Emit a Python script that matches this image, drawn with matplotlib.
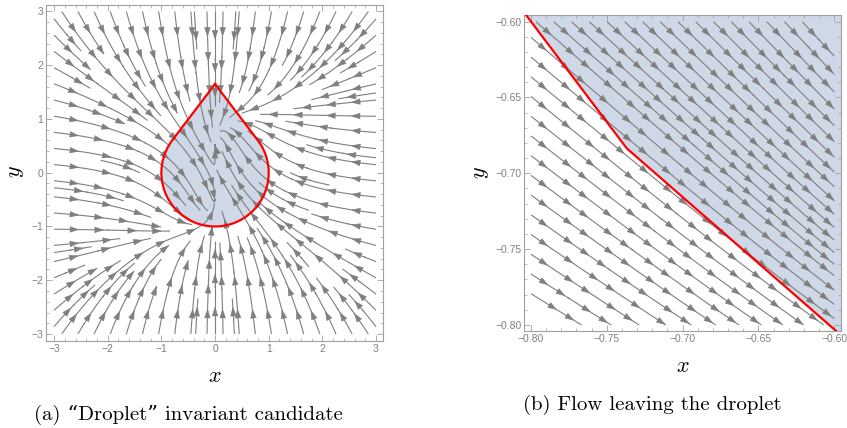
import numpy as np
import matplotlib
matplotlib.use('Agg')
from matplotlib import pyplot as plt
from matplotlib import rc
from matplotlib.patches import FancyArrowPatch, Polygon, ArrowStyle
from matplotlib.ticker import MultipleLocator, FuncFormatter

# vector field: x' = -a x - b x^3 - p x y^2 ,  y' = c tanh(k x) + d y - e y^3
FIELD_X = [0.96, 0.273, 0.3]         # a, b, p
FIELD_Y = [1.0, 2.0, 0.24, 0.95]     # c, k, d, e

# droplet = unit disc + cone up to the apex
DROP_RADIUS = 1.0
DROP_APEX = 1.65

# boundary of the droplet as drawn in the zoomed panel (coarse polyline)
ZOOM_BX = [-0.82, -0.7369, -0.58]
ZOOM_BY = [-0.5734, -0.6835, -0.8204]

LEFT_RANGE = [-3.0, 3.0]
RIGHT_RANGE = [-0.8, -0.6]
LEFT_TICKS = [-3, -2, -1, 0, 1, 2, 3]
RIGHT_TICKS = [-0.80, -0.75, -0.70, -0.65, -0.60]
CAPTIONS = ['(a) \u201cDroplet\u201d invariant candidate',
            '(b) Flow leaving the droplet']

GRAY = '#7f7f7f'
FILL = '#cfd8e6'
FRAME = '#a0a0a0'
HEAD = ArrowStyle('-|>', head_length=0.6, head_width=0.2)


def field(x, y):
    a, b, p = FIELD_X
    c, k, d, e = FIELD_Y
    u = -a * x - b * x ** 3 - p * x * y ** 2
    v = c * np.tanh(k * x) + d * y - e * y ** 3
    return u, v


def polylines(segs):
    lines = []
    for s in segs:
        s = np.asarray(s)
        if len(s) > 2:
            lines.append(list(s))
        elif lines and np.allclose(lines[-1][-1], s[0]):
            lines[-1].append(s[1])
        else:
            lines.append([s[0], s[1]])
    return [np.array(l) for l in lines]


def add_heads(ax, line, spacing, scale, first=0.7):
    d = np.hypot(*np.diff(line, axis=0).T)
    cum = np.concatenate([[0.0], np.cumsum(d)])
    total = cum[-1]
    if total < spacing * 0.3:
        return
    n = max(1, int(round(total / spacing)))
    for j in range(n):
        s = (j + first) * total / n
        i = int(np.searchsorted(cum, s))
        i = min(max(i, 1), len(line) - 1)
        tip, tail = line[i], line[i - 1]
        if np.allclose(tip, tail):
            continue
        ax.add_patch(FancyArrowPatch(tail, tip, arrowstyle=HEAD,
                                     mutation_scale=scale, color=GRAY,
                                     lw=0.4, shrinkA=0, shrinkB=0, zorder=2))


def stream(ax, lo, hi, density, spacing, scale, **kw):
    g = np.linspace(lo, hi, 121)
    X, Y = np.meshgrid(g, g)
    U, V = field(X, Y)
    sp = ax.streamplot(X, Y, U, V, density=density, color=GRAY,
                       linewidth=0.8, arrowstyle='-', zorder=2, **kw)
    for line in polylines(sp.lines.get_segments()):
        add_heads(ax, line, spacing, scale)


def frame(ax):
    for s in ax.spines.values():
        s.set_color(FRAME)
        s.set_linewidth(0.8)
    ax.tick_params(which='both', direction='in', top=True, right=True,
                   color=FRAME, labelcolor='#808080', labelsize=7.5, pad=2)
    ax.tick_params(which='major', length=4, width=0.6)
    ax.tick_params(which='minor', length=2, width=0.5)


rc('font', family='Liberation Sans')
rc('mathtext', fontset='cm')
fig = plt.figure(figsize=(8.47, 4.28), dpi=100)
W, H = 847.0, 428.0

# (a) droplet
ax1 = fig.add_axes([46 / W, 1 - 341 / H, 337 / W, 336 / H])
t_y = DROP_RADIUS ** 2 / DROP_APEX
t_x = np.sqrt(DROP_RADIUS ** 2 - t_y ** 2)
phi = np.arctan2(t_y, t_x)
ang = np.linspace(phi, -np.pi - phi, 200)
ox = np.concatenate([[0.0], DROP_RADIUS * np.cos(ang), [0.0]])
oy = np.concatenate([[DROP_APEX], DROP_RADIUS * np.sin(ang), [DROP_APEX]])
ax1.add_patch(Polygon(np.column_stack([ox, oy]), closed=True,
                      facecolor=FILL, edgecolor='none', zorder=1))
# seeds: along the four edges first, then a coarse interior grid
lo, hi = LEFT_RANGE
e = np.arange(lo + 0.15, hi, 0.3)
edge = hi - 0.01
gx, gy = np.meshgrid(np.arange(lo + 0.2, hi, 0.35), np.arange(lo + 0.2, hi, 0.35))
seeds1 = np.vstack([np.column_stack([e, np.full_like(e, edge)]),
                    np.column_stack([e, np.full_like(e, -edge)]),
                    np.column_stack([np.full_like(e, -edge), e]),
                    np.column_stack([np.full_like(e, edge), e]),
                    np.column_stack([gx.ravel(), gy.ravel()])])
stream(ax1, lo, hi, 1.3, 0.55, 10, start_points=seeds1)
ax1.plot(ox, oy, color='red', lw=1.6, zorder=4)
ax1.set_xlim(-3.15, 3.13)
ax1.set_ylim(-3.13, 3.12)
ax1.set_xticks(LEFT_TICKS)
ax1.set_yticks(LEFT_TICKS)
ax1.xaxis.set_minor_locator(MultipleLocator(0.2))
ax1.yaxis.set_minor_locator(MultipleLocator(0.2))
ax1.xaxis.set_major_formatter(FuncFormatter(lambda v, _: ('%d' % v).replace('-', '\u2212')))
ax1.yaxis.set_major_formatter(FuncFormatter(lambda v, _: ('%d' % v).replace('-', '\u2212')))
frame(ax1)

# (b) zoom on the boundary: long lines seeded along the left and top edges
ax2 = fig.add_axes([524.3 / W, 1 - 331 / H, 316.4 / W, 316 / H])
bx = ZOOM_BX + [-0.58, -0.82]
by = ZOOM_BY + [-0.58, -0.58]
ax2.add_patch(Polygon(np.column_stack([bx, by]), closed=True,
                      facecolor=FILL, edgecolor='none', zorder=1))
lo, hi = RIGHT_RANGE
ys = np.arange(hi - 0.0105, lo, -0.013)
xs = np.arange(lo + 0.0035, hi, 0.0117)
seeds2 = np.vstack([np.column_stack([np.full_like(ys, lo + 0.0002), ys]),
                    np.column_stack([xs, np.full_like(xs, hi - 0.0002)])])
stream(ax2, lo, hi, 1.0, 0.017, 10, start_points=seeds2,
       broken_streamlines=False)
ax2.plot(ZOOM_BX, ZOOM_BY, color='red', lw=1.6, zorder=4)
ax2.set_xlim(-0.8044, -0.5958)
ax2.set_ylim(-0.804, -0.5956)
ax2.set_xticks(RIGHT_TICKS)
ax2.set_yticks(RIGHT_TICKS)
ax2.xaxis.set_minor_locator(MultipleLocator(0.01))
ax2.yaxis.set_minor_locator(MultipleLocator(0.01))
fmt2 = FuncFormatter(lambda v, _: ('%.2f' % v).replace('-', '\u2212'))
ax2.xaxis.set_major_formatter(fmt2)
ax2.yaxis.set_major_formatter(fmt2)
frame(ax2)

# axis labels and captions
fig.text(215 / W, 1 - 376 / H, '$x$', fontsize=16, ha='center', va='center')
fig.text(15 / W, 1 - 172 / H, '$y$', fontsize=16, ha='center', va='center', rotation=90)
fig.text(683 / W, 1 - 367 / H, '$x$', fontsize=16, ha='center', va='center')
fig.text(480 / W, 1 - 173 / H, '$y$', fontsize=16, ha='center', va='center', rotation=90)
fig.text(188 / W, 1 - 415 / H, CAPTIONS[0], fontsize=15, ha='center', va='center',
         family=['cmr10', 'DejaVu Serif'])
fig.text(652 / W, 1 - 405 / H, CAPTIONS[1], fontsize=15, ha='center', va='center',
         family=['cmr10', 'DejaVu Serif'])

fig.savefig('out.png', dpi=100, facecolor='white')
